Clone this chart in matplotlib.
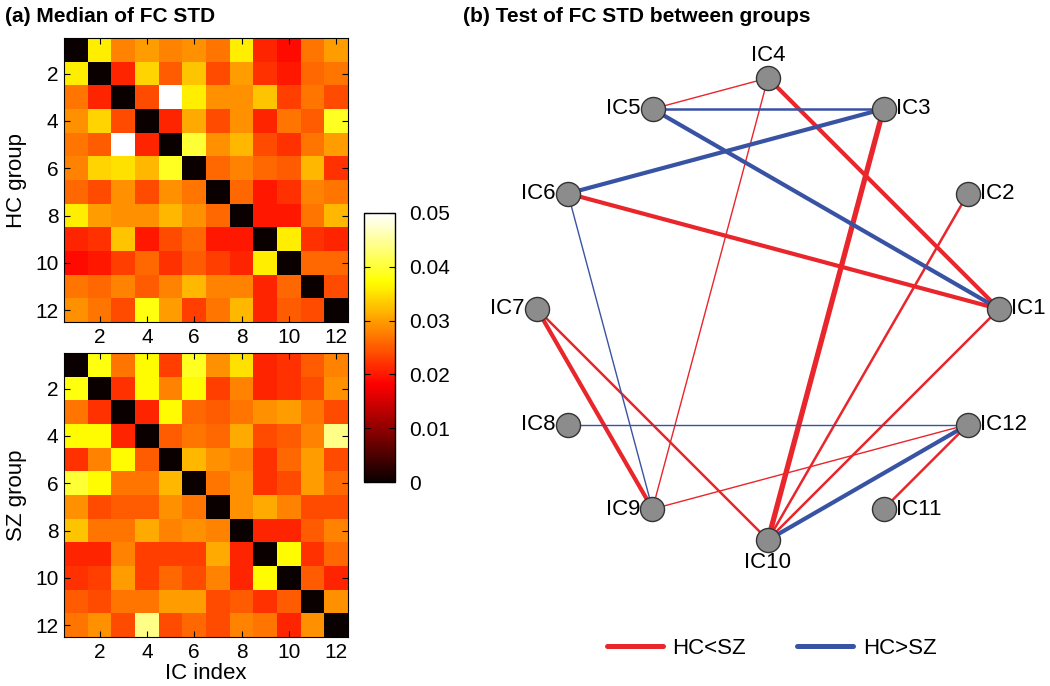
import numpy as np
import matplotlib
matplotlib.use("Agg")
import matplotlib.pyplot as plt
from matplotlib.lines import Line2D

plt.rcParams['font.family'] = ['Liberation Sans', 'DejaVu Sans']

# median FC STD, HC group (12 x 12 ICs)
hc = [
    [0, .036, .028, .030, .028, .029, .027, .036, .021, .019, .027, .030],
    [.036, 0, .021, .034, .025, .033, .024, .030, .022, .020, .026, .027],
    [.027, .021, 0, .024, .050, .036, .029, .029, .033, .023, .027, .024],
    [.029, .034, .024, 0, .021, .031, .024, .029, .021, .027, .025, .039],
    [.027, .025, .050, .021, 0, .040, .029, .032, .024, .022, .027, .030],
    [.028, .034, .035, .032, .039, 0, .026, .028, .026, .025, .032, .022],
    [.026, .024, .029, .024, .029, .027, 0, .026, .020, .022, .028, .027],
    [.036, .030, .029, .029, .032, .029, .026, 0, .020, .020, .027, .032],
    [.021, .022, .033, .020, .024, .026, .020, .020, 0, .036, .022, .021],
    [.019, .020, .023, .026, .022, .025, .023, .021, .036, 0, .026, .026],
    [.027, .026, .028, .025, .028, .032, .028, .028, .021, .026, 0, .024],
    [.029, .027, .024, .038, .030, .023, .027, .032, .021, .025, .024, 0],
]
# median FC STD, SZ group
sz = [
    [0, .038, .027, .037, .023, .039, .029, .035, .021, .022, .025, .028],
    [.038, 0, .022, .037, .028, .037, .023, .028, .021, .022, .024, .029],
    [.027, .022, 0, .021, .037, .026, .025, .027, .029, .030, .027, .024],
    [.037, .037, .021, 0, .025, .027, .026, .031, .024, .025, .028, .044],
    [.022, .028, .037, .025, 0, .032, .029, .028, .022, .026, .030, .024],
    [.040, .037, .027, .027, .032, 0, .027, .029, .022, .024, .030, .026],
    [.029, .024, .025, .025, .029, .027, 0, .029, .031, .028, .024, .024],
    [.033, .027, .027, .031, .028, .029, .028, 0, .021, .021, .025, .028],
    [.021, .021, .028, .023, .023, .023, .031, .021, 0, .037, .022, .026],
    [.022, .023, .030, .023, .026, .024, .028, .021, .037, 0, .025, .021],
    [.025, .024, .027, .027, .030, .030, .024, .025, .022, .025, 0, .029],
    [.027, .029, .024, .044, .024, .026, .024, .028, .027, .021, .029, 0],
]

node_names = ["IC%d" % i for i in range(1, 13)]
# significant edges: (node a, node b, direction, line weight)
edges = [
    (4, 5, "lt", 1.0), (4, 1, "lt", 3.0), (4, 9, "lt", 1.0),
    (6, 1, "lt", 3.0), (3, 10, "lt", 3.8), (2, 10, "lt", 1.8),
    (1, 10, "lt", 1.8), (7, 9, "lt", 3.0), (7, 10, "lt", 1.8),
    (9, 12, "lt", 1.0), (12, 11, "lt", 1.8),
    (5, 3, "gt", 1.8), (5, 1, "gt", 3.0), (6, 3, "gt", 3.0),
    (6, 9, "gt", 1.0), (8, 12, "gt", 1.0), (12, 10, "gt", 3.0),
]
RED = "#e8262b"
BLUE = "#3953a4"

W, H = 1050, 686
fig = plt.figure(figsize=(10.5, 6.86), dpi=100)

def pos(x0, y0, x1, y1):
    return [x0 / W, 1 - y1 / H, (x1 - x0) / W, (y1 - y0) / H]

ticks = [2, 4, 6, 8, 10, 12]
for mat, box, ylab, showx in [(hc, (64, 38, 348, 322), "HC group", False),
                               (sz, (64, 353, 348, 637), "SZ group", True)]:
    ax = fig.add_axes(pos(*box))
    im = ax.imshow(np.array(mat), cmap="hot", vmin=0, vmax=0.05,
                   extent=(0.5, 12.5, 12.5, 0.5), aspect="auto",
                   interpolation="nearest")
    ax.set_xticks(ticks)
    ax.set_yticks(ticks)
    ax.tick_params(direction="in", top=True, right=True, labelsize=15,
                   length=4, pad=4)
    ax.set_ylabel(ylab, fontsize=16, labelpad=6)
    if showx:
        ax.set_xlabel("IC index", fontsize=16, labelpad=1)

cax = fig.add_axes(pos(364, 213, 395, 482))
cb = fig.colorbar(im, cax=cax, ticks=[0, .01, .02, .03, .04, .05])
cb.ax.set_yticklabels(["0", "0.01", "0.02", "0.03", "0.04", "0.05"])
cb.ax.tick_params(direction="in", labelsize=15, length=4, pad=10,
                  left=True)
cb.outline.set_linewidth(1.0)

fig.text(5 / W, 1 - 16 / H, "(a) Median of FC STD", fontsize=15,
         fontweight="bold", va="center")
fig.text(463 / W, 1 - 16 / H, "(b) Test of FC STD between groups",
         fontsize=15, fontweight="bold", va="center")

# network panel, data units = figure pixels
axn = fig.add_axes(pos(440, 0, 1050, 686))
axn.set_xlim(440, 1050)
axn.set_ylim(686, 0)
axn.axis("off")
cx, cy, r = 768, 309, 231
ang = np.deg2rad(30 * np.arange(12))
nx = cx + r * np.cos(ang)
ny = cy - r * np.sin(ang)

for a, b, kind, lw in edges:
    axn.plot([nx[a - 1], nx[b - 1]], [ny[a - 1], ny[b - 1]],
             color=RED if kind == "lt" else BLUE, lw=lw,
             solid_capstyle="round", zorder=1)
axn.scatter(nx, ny, s=300, color="#8c8c8c", edgecolor="#333333",
            linewidth=1.0, zorder=3)

for i, name in enumerate(node_names):
    c, s = np.cos(ang[i]), np.sin(ang[i])
    if abs(c) < 0.1:
        if s > 0:
            axn.text(nx[i], ny[i] - 12, name, ha="center", va="bottom",
                     fontsize=16)
        else:
            axn.text(nx[i], ny[i] + 12, name, ha="center", va="top",
                     fontsize=16)
    elif c > 0:
        axn.text(nx[i] + 12, ny[i], name, ha="left", va="center",
                 fontsize=16)
    else:
        axn.text(nx[i] - 12, ny[i], name, ha="right", va="center",
                 fontsize=16)

handles = [Line2D([], [], color=RED, lw=3.6, solid_capstyle="round"),
           Line2D([], [], color=BLUE, lw=3.6, solid_capstyle="round")]
axn.legend(handles, ["HC<SZ", "HC>SZ"], loc="center",
           bbox_to_anchor=(0.544, 0.055), ncol=2, frameon=False,
           fontsize=16, handlelength=2.5, columnspacing=2.3,
           handletextpad=0.45)

fig.savefig("out.png", dpi=100)
